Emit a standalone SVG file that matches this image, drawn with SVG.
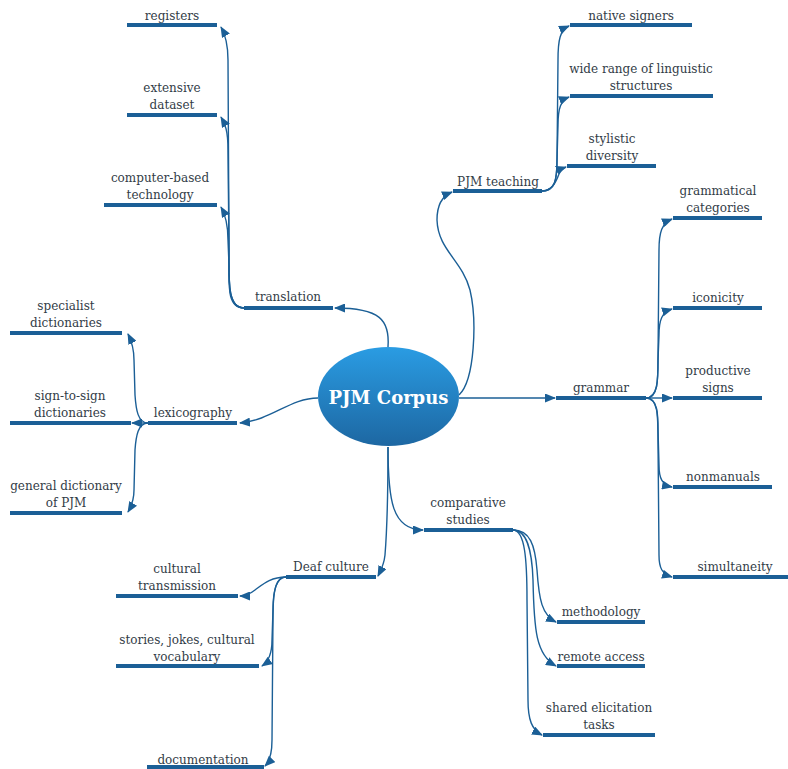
<svg xmlns="http://www.w3.org/2000/svg" width="788" height="769" viewBox="0 0 788 769">
<defs>
<linearGradient id="g" x1="0" y1="0" x2="0" y2="1">
<stop offset="0" stop-color="#2a9ce3"/>
<stop offset="1" stop-color="#1d67a2"/>
</linearGradient>
<marker id="ah" markerWidth="11" markerHeight="9" refX="10" refY="4.5" orient="auto" markerUnits="userSpaceOnUse">
<path d="M0,0 L11,4.5 L0,9 z" fill="#1b5f96"/>
</marker>
</defs>
<style>
.u{stroke:#1b5f96;stroke-width:4;fill:none}
.c{stroke:#1b5f96;stroke-width:1.4;fill:none;marker-end:url(#ah)}
text{font-family:"DejaVu Serif","Liberation Serif",serif;font-size:12px;fill:#323c47;text-anchor:middle}
.t{font-family:"DejaVu Serif","Liberation Serif",serif;font-size:18px;font-weight:bold;fill:#ffffff}
</style>
<rect width="788" height="769" fill="#ffffff"/>
<g id="connectors">
<path class="c" d="M388,347 C390,320 380,308 335,308"/>
<path class="c" d="M244,308 C227,308 229,280 229,250 L228,60 C228,42 225,34 221,27"/>
<path class="c" d="M244,308 C227,308 229,280 229,250 L228,150 C228,130 225,124 221,117"/>
<path class="c" d="M244,308 C227,308 229,285 229,265 L228,240 C228,222 225,214 221,207"/>
<path class="c" d="M459,395 C475,380 477,320 470,290 C462,260 438,250 437,220 C437,205 442,196 452,192"/>
<path class="c" d="M542,191 C555,191 557,180 557,160 L558,60 C558,40 560,30 569,26"/>
<path class="c" d="M542,191 C555,191 557,180 557,160 L558,125 C558,108 561,100 569,97"/>
<path class="c" d="M542,191 C552,191 556,182 559,174 C561,170 563,168 566,167"/>
<path class="c" d="M459,398 L555,398"/>
<path class="c" d="M646,398 C658,398 658,380 658,360 L659,250 C659,232 662,223 672,219"/>
<path class="c" d="M646,398 C658,398 658,380 658,360 L659,335 C659,320 662,312 672,309"/>
<path class="c" d="M646,398 L672,398"/>
<path class="c" d="M646,398 C658,398 658,415 658,430 L659,465 C659,478 662,485 672,487"/>
<path class="c" d="M646,398 C658,398 658,415 658,440 L659,555 C659,568 662,574 672,577"/>
<path class="c" d="M318,398 C290,398 272,420 240,423"/>
<path class="c" d="M148,423 C138,423 136,410 135,395 L134,360 C134,348 131,340 128,334"/>
<path class="c" d="M148,423 L132,423"/>
<path class="c" d="M148,423 C138,423 136,436 135,450 L134,490 C134,500 131,507 128,512"/>
<path class="c" d="M388,447 C388,480 387,530 385,555 C384,565 381,570 378,576"/>
<path class="c" d="M286,577 C270,577 262,585 255,590 C250,594 245,596 240,596"/>
<path class="c" d="M286,577 C276,577 273,590 273,610 L272,640 C272,655 268,662 262,666"/>
<path class="c" d="M286,577 C276,577 273,590 273,615 L272,740 C272,755 269,762 265,766"/>
<path class="c" d="M388,447 C388,500 392,530 423,530"/>
<path class="c" d="M513,530 C530,530 535,545 537,570 C539,600 542,615 556,622"/>
<path class="c" d="M513,530 C527,530 532,550 533,580 C534,630 536,655 556,666"/>
<path class="c" d="M513,530 C525,530 527,560 527,600 L528,700 C528,720 532,730 542,735"/>
</g>
<g id="center">
<ellipse cx="388.5" cy="396.5" rx="70.5" ry="49.5" fill="url(#g)"/>
<text class="t" x="388.5" y="403.5">PJM Corpus</text>
</g>
<g id="translation"><path class="u" d="M244,308 H333"/><text x="288" y="301">translation</text></g>
<g id="registers"><path class="u" d="M127,25 H217"/><text x="172" y="20">registers</text></g>
<g id="extensive-dataset"><path class="u" d="M127,115 H217"/><text x="172" y="92">extensive</text><text x="172" y="109">dataset</text></g>
<g id="computer-based"><path class="u" d="M104,205 H217"/><text x="160" y="182">computer-based</text><text x="160" y="199">technology</text></g>
<g id="pjm-teaching"><path class="u" d="M453,191 H542"/><text x="498" y="186">PJM teaching</text></g>
<g id="native-signers"><path class="u" d="M570,25 H692"/><text x="631" y="20">native signers</text></g>
<g id="wide-range"><path class="u" d="M570,96 H713"/><text x="641" y="73">wide range of linguistic</text><text x="641" y="90">structures</text></g>
<g id="stylistic"><path class="u" d="M567,166 H656"/><text x="612" y="143">stylistic</text><text x="612" y="160">diversity</text></g>
<g id="grammar"><path class="u" d="M556,398 H646"/><text x="601" y="392">grammar</text></g>
<g id="grammatical-categories"><path class="u" d="M673,218 H762"/><text x="718" y="195">grammatical</text><text x="718" y="212">categories</text></g>
<g id="iconicity"><path class="u" d="M673,308 H762"/><text x="718" y="302">iconicity</text></g>
<g id="productive-signs"><path class="u" d="M673,398 H762"/><text x="718" y="375">productive</text><text x="718" y="392">signs</text></g>
<g id="nonmanuals"><path class="u" d="M673,487 H772"/><text x="723" y="481">nonmanuals</text></g>
<g id="simultaneity"><path class="u" d="M673,577 H788"/><text x="735" y="571">simultaneity</text></g>
<g id="lexicography"><path class="u" d="M148,423 H237"/><text x="193" y="417">lexicography</text></g>
<g id="specialist"><path class="u" d="M10,333 H122"/><text x="66" y="310">specialist</text><text x="66" y="327">dictionaries</text></g>
<g id="sign-to-sign"><path class="u" d="M10,423 H131"/><text x="70" y="400">sign-to-sign</text><text x="70" y="417">dictionaries</text></g>
<g id="general-dictionary"><path class="u" d="M10,513 H122"/><text x="66" y="490">general dictionary</text><text x="66" y="507">of PJM</text></g>
<g id="deaf-culture"><path class="u" d="M286,577 H376"/><text x="331" y="571">Deaf culture</text></g>
<g id="cultural-transmission"><path class="u" d="M116,596 H238"/><text x="177" y="573">cultural</text><text x="177" y="590">transmission</text></g>
<g id="stories"><path class="u" d="M116,666 H259"/><text x="187" y="644">stories, jokes, cultural</text><text x="187" y="661">vocabulary</text></g>
<g id="documentation"><path class="u" d="M147,767 H264"/><text x="203" y="764">documentation</text></g>
<g id="comparative"><path class="u" d="M424,530 H513"/><text x="468" y="507">comparative</text><text x="468" y="524">studies</text></g>
<g id="methodology"><path class="u" d="M557,622 H645"/><text x="601" y="616">methodology</text></g>
<g id="remote-access"><path class="u" d="M557,666 H645"/><text x="601" y="661">remote access</text></g>
<g id="shared"><path class="u" d="M543,735 H655"/><text x="599" y="712">shared elicitation</text><text x="599" y="729">tasks</text></g>
</svg>
